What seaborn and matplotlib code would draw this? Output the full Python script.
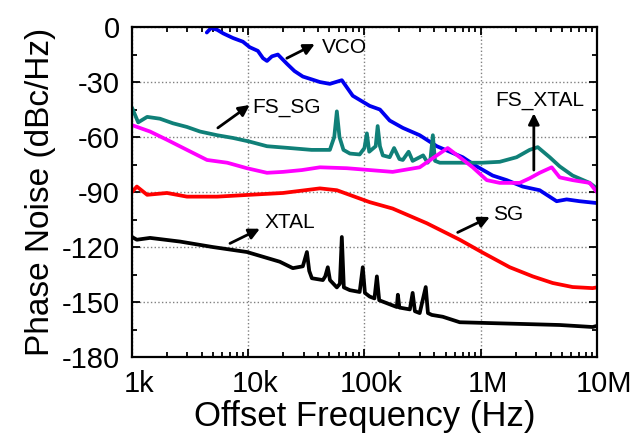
import numpy as np
import pandas as pd
import matplotlib
matplotlib.use("Agg")
import matplotlib.pyplot as plt
import matplotlib.transforms as mtransforms
from matplotlib.ticker import FixedLocator, NullFormatter, MultipleLocator
import seaborn as sns

sns.set_theme(style="ticks")
plt.rcParams['font.family'] = ['Liberation Sans', 'DejaVu Sans']
plt.rcParams['axes.unicode_minus'] = False
plt.rcParams['text.color'] = 'black'
plt.rcParams['axes.labelcolor'] = 'black'

# offset frequency (Hz) / phase noise (dBc/Hz)
vco_f = [4.4e3, 4.8e3, 5.4e3, 6.1e3, 7.4e3, 9.0e3, 10.3e3, 12.1e3, 13.4e3, 14.5e3,
         16e3, 18e3, 21.5e3, 25e3, 29.5e3, 35e3, 41.4e3, 50.4e3, 63.9e3, 79.4e3,
         111e3, 136e3, 165e3, 214e3, 299e3, 420e3, 542e3, 701e3, 925e3, 1.27e6,
         1.68e6, 2.30e6, 3.22e6, 4.51e6, 5.50e6, 7.11e6, 10e6]
vco_pn = [-3, -0.5, -1.5, -3.5, -6, -8, -11, -13, -17, -18.5,
          -16, -15, -20, -24, -27, -28.5, -30, -31, -29, -37.5,
          -43, -45, -51, -55, -59, -65, -68, -71, -76, -81,
          -83.5, -87, -89, -95, -94, -95, -96]

fs_sg_f = [1e3, 1.13e3, 1.35e3, 1.74e3, 2.25e3, 2.97e3, 3.85e3, 5.4e3, 7.4e3, 10.3e3,
           14.5e3, 22.8e3, 35e3, 50.4e3, 55e3, 57.9e3, 61e3, 66e3, 75e3, 91e3,
           100e3, 105e3, 110e3, 125e3, 130e3, 136e3, 144e3, 165e3, 180e3, 200e3,
           214e3, 240e3, 260e3, 299e3, 320e3, 350e3, 370e3, 388e3, 405e3, 445e3,
           661e3, 1.04e6, 1.46e6, 2.04e6, 2.64e6, 3.10e6, 3.93e6, 4.79e6, 6.19e6,
           8.67e6, 10e6]
fs_sg_pn = [-44, -52, -49, -50, -52.5, -54.5, -57, -59, -60.5, -62.5,
            -65, -66, -67, -67, -60, -46, -60, -67, -69, -69.5,
            -66, -58, -68, -65, -54, -65, -70, -71, -66, -72,
            -72.5, -68, -73, -71, -70, -74, -72, -59, -73, -74,
            -74, -74, -73.5, -71, -67, -65.5, -71, -76, -81,
            -85, -88]

fs_xtal_f = [1e3, 1.43e3, 2.0e3, 2.97e3, 4.42e3, 6.6e3, 9.75e3, 14.5e3, 19.9e3, 29e3,
             41.4e3, 70.6e3, 111e3, 175e3, 299e3, 420e3, 521e3, 661e3, 855e3, 1.13e6,
             1.46e6, 2.17e6, 2.64e6, 3.22e6, 4.09e6, 4.79e6, 6.19e6, 8.67e6, 10e6]
fs_xtal_pn = [-53.5, -57, -61.5, -67, -72.5, -74, -77, -79.5, -79, -78,
              -76.5, -77, -78, -79, -76.5, -70, -66, -71, -76.5, -83.5,
              -85, -85, -82.5, -79.5, -76.5, -82, -83.5, -85, -90]

sg_f = [1e3, 1.1e3, 1.35e3, 2.0e3, 2.97e3, 5.4e3, 10.3e3, 19.9e3, 41.4e3, 57.9e3,
        111e3, 175e3, 344e3, 661e3, 1.04e6, 1.78e6, 2.81e6, 4.17e6, 6.19e6, 9.2e6, 10e6]
sg_pn = [-90, -87, -91.5, -90.5, -92.5, -92.5, -91.5, -90.5, -88, -89,
         -95.5, -99, -107, -116, -123, -131, -136, -139.6, -141.8, -142.4, -142]

xtal_f = [1e3, 1.1e3, 1.43e3, 2.59e3, 4.97e3, 9.75e3, 18.7e3, 24.2e3, 29.5e3, 32e3,
          33.5e3, 35.3e3, 43.9e3, 46e3, 48.4e3, 50.5e3, 57.9e3, 61.5e3, 63.9e3, 66.5e3,
          74.9e3, 91e3, 96.8e3, 101e3, 111e3, 122e3, 128e3, 134e3, 190e3, 194e3,
          200e3, 246e3, 260e3, 272e3, 299e3, 337e3, 352e3, 380e3, 472e3, 661e3,
          1.27e6, 2.49e6, 4.79e6, 9.2e6, 10e6]
xtal_pn = [-114.5, -116, -115, -117, -120, -122.7, -128, -131.5, -130.5, -122.7,
           -133, -137, -138, -136, -131, -138, -142, -140, -114.5, -142,
           -143.5, -144.5, -131, -145, -147, -148, -136, -149, -152.7, -146,
           -153, -154, -145, -155, -156, -141.8, -156, -157, -158, -161,
           -161.5, -162, -162.5, -163.6, -163]

series = [
    ('VCO', vco_f, vco_pn, '#0000f0'),
    ('FS_SG', fs_sg_f, fs_sg_pn, '#108078'),
    ('FS_XTAL', fs_xtal_f, fs_xtal_pn, '#ff00ff'),
    ('SG', sg_f, sg_pn, '#ff0000'),
    ('XTAL', xtal_f, xtal_pn, '#000000'),
]

x_ticks = [1e3, 1e4, 1e5, 1e6, 1e7]
x_tick_labels = ['1k', '10k', '100k', '1M', '10M']
y_ticks = [0, -30, -60, -90, -120, -150, -180]

fig = plt.figure(figsize=(6.39, 4.36), dpi=100)
ax = fig.add_axes([0.2066, 0.181, 0.7274, 0.757])

for name, f, pn, color in series:
    df = pd.DataFrame({'f': f, 'pn': pn})
    sns.lineplot(data=df, x='f', y='pn', color=color, lw=2.7, ax=ax,
                 estimator=None, sort=False)

ax.set_xscale('log')
ax.set_xlim(1e3, 1e7)
ax.set_ylim(-180, 0)
ax.xaxis.set_major_locator(FixedLocator(x_ticks))
ax.set_xticklabels(x_tick_labels)
ax.xaxis.set_minor_formatter(NullFormatter())
ax.set_yticks(y_ticks)
ax.yaxis.set_minor_locator(MultipleLocator(15))

ax.grid(True, which='major', linestyle=':', color='#808080', lw=1)
ax.tick_params(which='both', direction='in', top=True, right=True,
               width=1.3, colors='black', labelsize=21)
ax.tick_params(which='major', length=6, pad=9)
ax.tick_params(which='minor', length=3.5)
for sp in ax.spines.values():
    sp.set_linewidth(1.6)
    sp.set_color('black')

# tick labels in the original sit slightly to the right
shift = mtransforms.ScaledTranslation(7 / 100, 0, fig.dpi_scale_trans)
for lab in ax.get_xticklabels():
    lab.set_transform(lab.get_transform() + shift)

ax.set_xlabel('Offset Frequency (Hz)', fontsize=25, labelpad=2, color='black')
ax.set_ylabel('Phase Noise (dBc/Hz)', fontsize=24, labelpad=4, color='black')

arrow = dict(arrowstyle='-|>', lw=2, color='black', mutation_scale=16, shrinkA=0, shrinkB=0)
notes = [
    ('VCO', (37.4e3, -9.3), (21.5e3, -17), (43e3, -11)),
    ('FS_SG', (10.3e3, -42.5), (5.48e3, -55), (10.9e3, -44)),
    ('SG', (1.2e6, -103.6), (635e3, -112), (1.27e6, -102)),
    ('XTAL', (12.6e3, -110), (6.97e3, -118), (13.9e3, -106.4)),
]
for text, head, tail, pos in notes:
    ax.annotate('', xy=head, xytext=tail, arrowprops=arrow)
    ax.text(pos[0], pos[1], text, fontsize=15, ha='left', va='center', color='black')

ax.annotate('', xy=(2.87e6, -47), xytext=(2.87e6, -78), arrowprops=arrow)
ax.text(3.22e6, -40, 'FS_XTAL', fontsize=15, ha='center', va='center', color='black')

fig.savefig('out.png', dpi=100)
